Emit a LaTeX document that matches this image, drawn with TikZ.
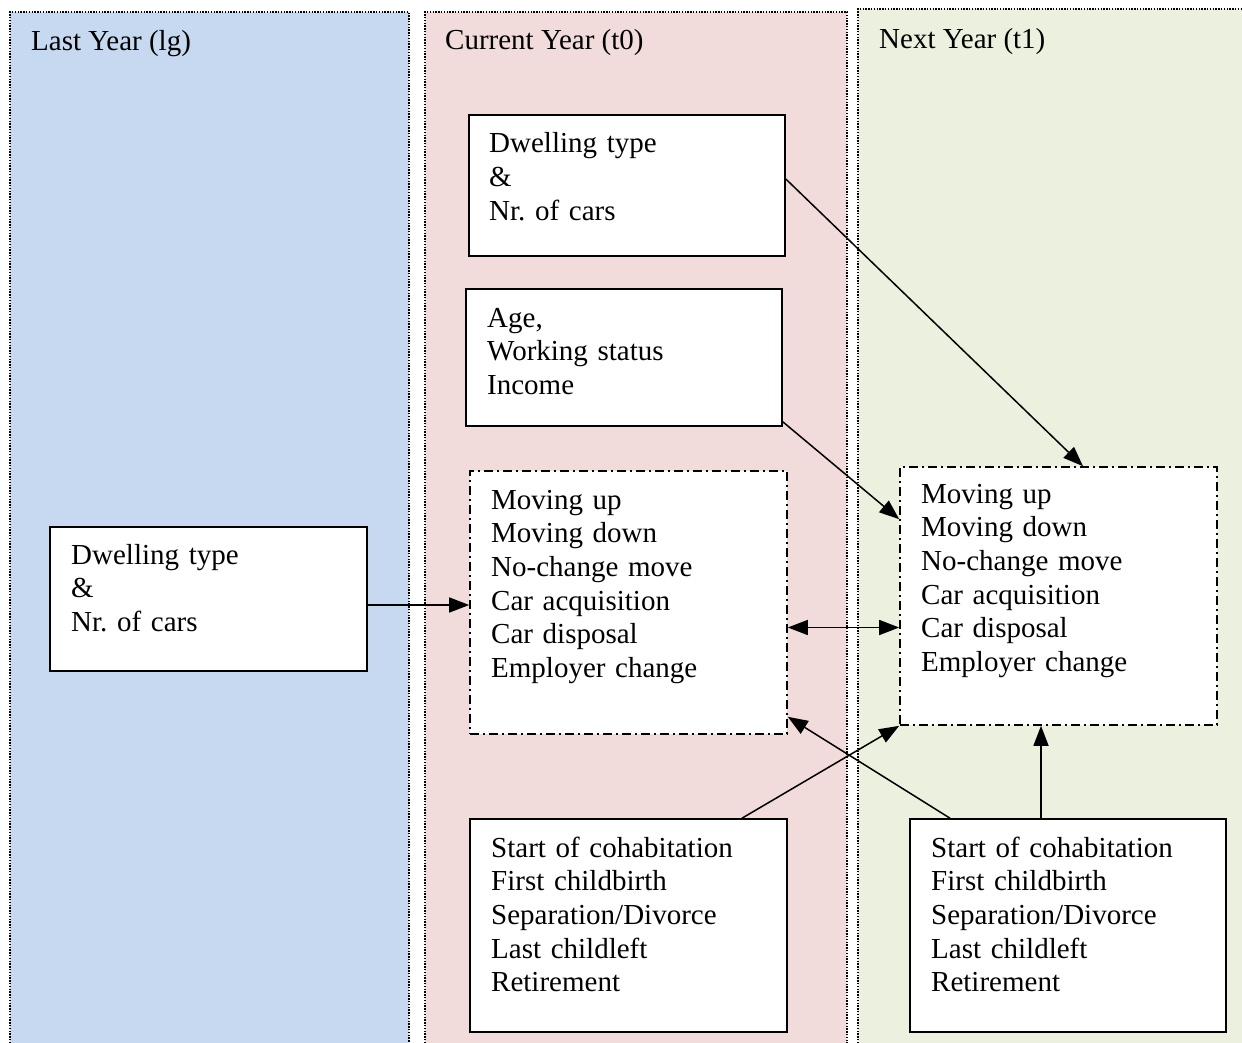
\documentclass[tikz,border=0pt]{standalone}
\usepackage{fontspec}
\setmainfont{Liberation Serif}
\usetikzlibrary{arrows.meta}
\frenchspacing

\definecolor{colblue}{HTML}{C6D9F0}
\definecolor{colpink}{HTML}{F2DCDB}
\definecolor{colgreen}{HTML}{EBF1DE}

\tikzset{
  column/.style={line width=1.4pt, dash pattern=on 1.4pt off 1.4pt},
  solidbox/.style={draw, line width=1.6pt, fill=white, inner sep=0pt},
  dashbox/.style={draw, line width=1.6pt, fill=white, inner sep=0pt,
                  dash pattern=on 9pt off 4pt on 2pt off 4pt},
  boxtext/.style={anchor=base west, inner sep=0pt, text width=300pt, align=left,
                  font=\fontsize{29}{33.7}\selectfont},
  headtext/.style={anchor=base west, inner sep=0pt, font=\fontsize{29}{34}\selectfont},
  link/.style={line width=1.5pt, -{Triangle[length=20pt,width=15pt]}},
  bilink/.style={line width=1.5pt, {Triangle[length=20pt,width=15pt]}-{Triangle[length=20pt,width=15pt]}}
}

\begin{document}
\begin{tikzpicture}[x=1pt,y=-1pt]
  \useasboundingbox (0,0) rectangle (1242,1043);
  \clip (0,0) rectangle (1242,1043);

  % year columns
  \fill[colblue]  (10,12) rectangle (409,1060);
  \fill[colpink]  (425,12) rectangle (847,1060);
  \fill[colgreen] (858,9) rectangle (1260,1060);
  \draw[column] (10,1060) -- (10,12) -- (409,12) -- (409,1060);
  \draw[column] (425,1060) -- (425,12) -- (847,12) -- (847,1060);
  \draw[column] (858,1060) -- (858,9) -- (1260,9);

  \node[headtext] (hlg) at (31,51) {Last Year (lg)};
  \node[headtext] (ht0) at (445,50) {Current Year (t0)};
  \node[headtext] (ht1) at (879,49) {Next Year (t1)};

  % boxes
  \node[solidbox, minimum width=317pt, minimum height=144pt] (lgbox) at (208.5,599) {};
  \node[solidbox, minimum width=316pt, minimum height=141pt] (t0a) at (627,185.5) {};
  \node[solidbox, minimum width=316pt, minimum height=137pt] (t0b) at (624,357.5) {};
  \node[dashbox, minimum width=317pt, minimum height=263pt] (t0mid) at (628.5,602.5) {};
  \node[solidbox, minimum width=317pt, minimum height=213pt] (t0bot) at (628.5,925.5) {};
  \node[dashbox, minimum width=317pt, minimum height=258pt] (t1mid) at (1058.5,596) {};
  \node[solidbox, minimum width=316pt, minimum height=213pt] (t1bot) at (1068,925.5) {};

  % box texts
  \node[boxtext] (lgtext) at (71,564) {Dwelling type\\ \&\\ Nr. of cars};
  \node[boxtext] (t0atext) at (489,153) {Dwelling type\\ \&\\ Nr. of cars};
  \node[boxtext] (t0btext) at (487,327) {Age,\\ Working status\\ Income};
  \node[boxtext] (t0midtext) at (491,509) {Moving up\\ Moving down\\ No-change move\\ Car acquisition\\ Car disposal\\ Employer change};
  \node[boxtext] (t1midtext) at (921,503) {Moving up\\ Moving down\\ No-change move\\ Car acquisition\\ Car disposal\\ Employer change};
  \node[boxtext] (t0bottext) at (491,857) {Start of cohabitation\\ First childbirth\\ Separation/Divorce\\ Last childleft\\ Retirement};
  \node[boxtext] (t1bottext) at (931,857) {Start of cohabitation\\ First childbirth\\ Separation/Divorce\\ Last childleft\\ Retirement};

  % connectors
  \draw[link] ([yshift=-6pt]lgbox.east) -- ([yshift=-6pt]lgbox.east -| t0mid.west);
  \draw[link] ([yshift=6.5pt]t0a.east) -- ([xshift=24.5pt]t1mid.north);
  \draw[link] ([yshift=5pt]t0b.south east) -- ([yshift=-53pt]t1mid.north west);
  \draw[bilink] ([yshift=-25pt]t0mid.east) -- ([yshift=-25pt]t0mid.east -| t1mid.west);
  \draw[link] ([xshift=113.5pt]t0bot.north) -- (t1mid.south west);
  \draw[link] ([xshift=-118pt]t1bot.north) -- ([yshift=18pt]t0mid.south east);
  \coordinate (t1up) at ([xshift=-27pt]t1bot.north);
  \draw[link] (t1up) -- (t1up |- t1mid.south);
\end{tikzpicture}
\end{document}
